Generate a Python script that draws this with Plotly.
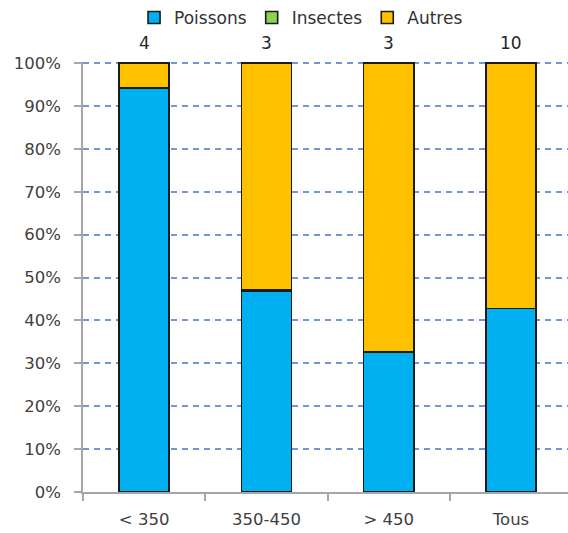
import plotly.graph_objects as go

# Diet composition by size class (percent of total)
categories = ["< 350", "350-450", "> 450", "Tous"]
counts = [4, 3, 3, 10]
poissons = [94.2, 46.8, 32.6, 42.8]
insectes = [0.0, 0.4, 0.0, 0.0]
autres = [5.8, 52.8, 67.4, 57.2]

y_ticks = list(range(0, 101, 10))
y_tick_labels = [f"{v}%" for v in y_ticks]

series = [
    ("Poissons", poissons, "#00B0F0"),
    ("Insectes", insectes, "#92D050"),
    ("Autres", autres, "#FFC000"),
]

FONT = "DejaVu Sans"
TXT = "#404040"

fig = go.Figure()
for name, vals, color in series:
    fig.add_trace(go.Bar(
        name=name, x=categories, y=vals,
        marker=dict(color=color, line=dict(color="#1a1a1a", width=1.6)),
    ))

# sample sizes above each bar
for cat, n in zip(categories, counts):
    fig.add_annotation(x=cat, y=100, text=str(n), showarrow=False,
                       yanchor="bottom", yshift=8,
                       font=dict(family=FONT, size=17, color="#262626"))

fig.update_layout(
    width=568, height=533,
    margin=dict(l=83, r=0, t=62, b=41),
    barmode="stack", bargap=0.59,
    paper_bgcolor="white", plot_bgcolor="white",
    font=dict(family=FONT, size=16, color=TXT),
    legend=dict(orientation="h", xref="container", yref="container",
                x=0.53, xanchor="center", y=1 - 18 / 533, yanchor="middle",
                font=dict(family=FONT, size=17, color="#333333"),
                itemwidth=30, traceorder="normal"),
    showlegend=True,
)
fig.update_xaxes(
    range=[-0.5, 3.466], showline=True, linecolor="#a6a6a6", linewidth=1.5,
    ticks="outside", tickson="boundaries", ticklen=7, tickcolor="#a6a6a6",
    tickwidth=1.5, ticklabelstandoff=11, showgrid=False,
    tickfont=dict(family=FONT, size=16.5, color=TXT),
)
fig.update_yaxes(
    range=[0, 100.25], tickmode="array", tickvals=y_ticks, ticktext=y_tick_labels,
    showline=True, linecolor="#a6a6a6", linewidth=1.5,
    ticks="outside", ticklen=7, tickcolor="#a6a6a6", tickwidth=1.5,
    ticklabelstandoff=10,
    showgrid=True, gridcolor="#7396d6", gridwidth=1.5, griddash="6px,5px",
    zeroline=False,
    tickfont=dict(family=FONT, size=16.5, color=TXT),
)

fig.write_html("out.html")
